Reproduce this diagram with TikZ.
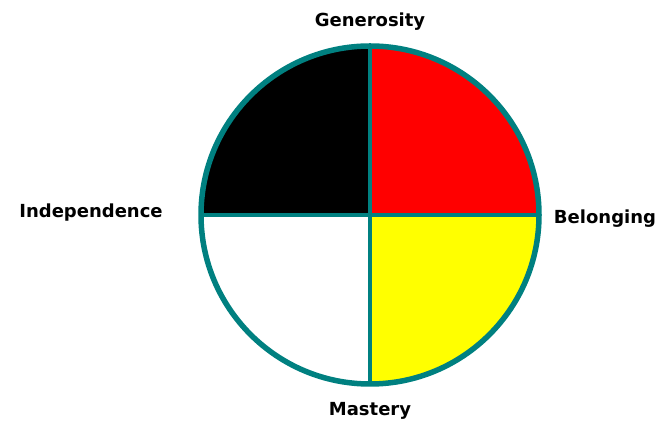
\documentclass[tikz,border=0pt]{standalone}
\usepackage{fontspec}
\setmainfont{DejaVu Sans}
\usepackage{tikz}

\definecolor{rimteal}{RGB}{0,128,128}
\definecolor{wheelyellow}{RGB}{255,255,0}

\begin{document}
\begin{tikzpicture}[x=1pt, y=1pt]
    \useasboundingbox (0,0) rectangle (656,427);
    \tikzset{label/.style={font=\bfseries\fontsize{18}{21}\selectfont, text=black}}

    \coordinate (c) at (370,212);

    % quadrants
    \fill[black]       (c) -- ++(-169,0) arc[start angle=180, end angle=90, radius=169] -- cycle;
    \fill[red]         (c) -- ++(0,169) arc[start angle=90, end angle=0, radius=169] -- cycle;
    \fill[wheelyellow] (c) -- ++(169,0) arc[start angle=0, end angle=-90, radius=169] -- cycle;
    \fill[white]       (c) -- ++(0,-169) arc[start angle=-90, end angle=-180, radius=169] -- cycle;

    % cross and rim
    \draw[rimteal, line width=4pt] (c) ++(-169,0) -- ++(338,0);
    \draw[rimteal, line width=4pt] (c) ++(0,-169) -- ++(0,338);
    \draw[rimteal, line width=5.5pt] (c) circle[radius=169];

    \node[label] (gen) at (370,405) {Generosity};
    \node[label] (ind) at (91,214) {Independence};
    \node[label] (bel) at (605,208) {Belonging};
    \node[label] (mas) at (370,16) {Mastery};
\end{tikzpicture}
\end{document}
